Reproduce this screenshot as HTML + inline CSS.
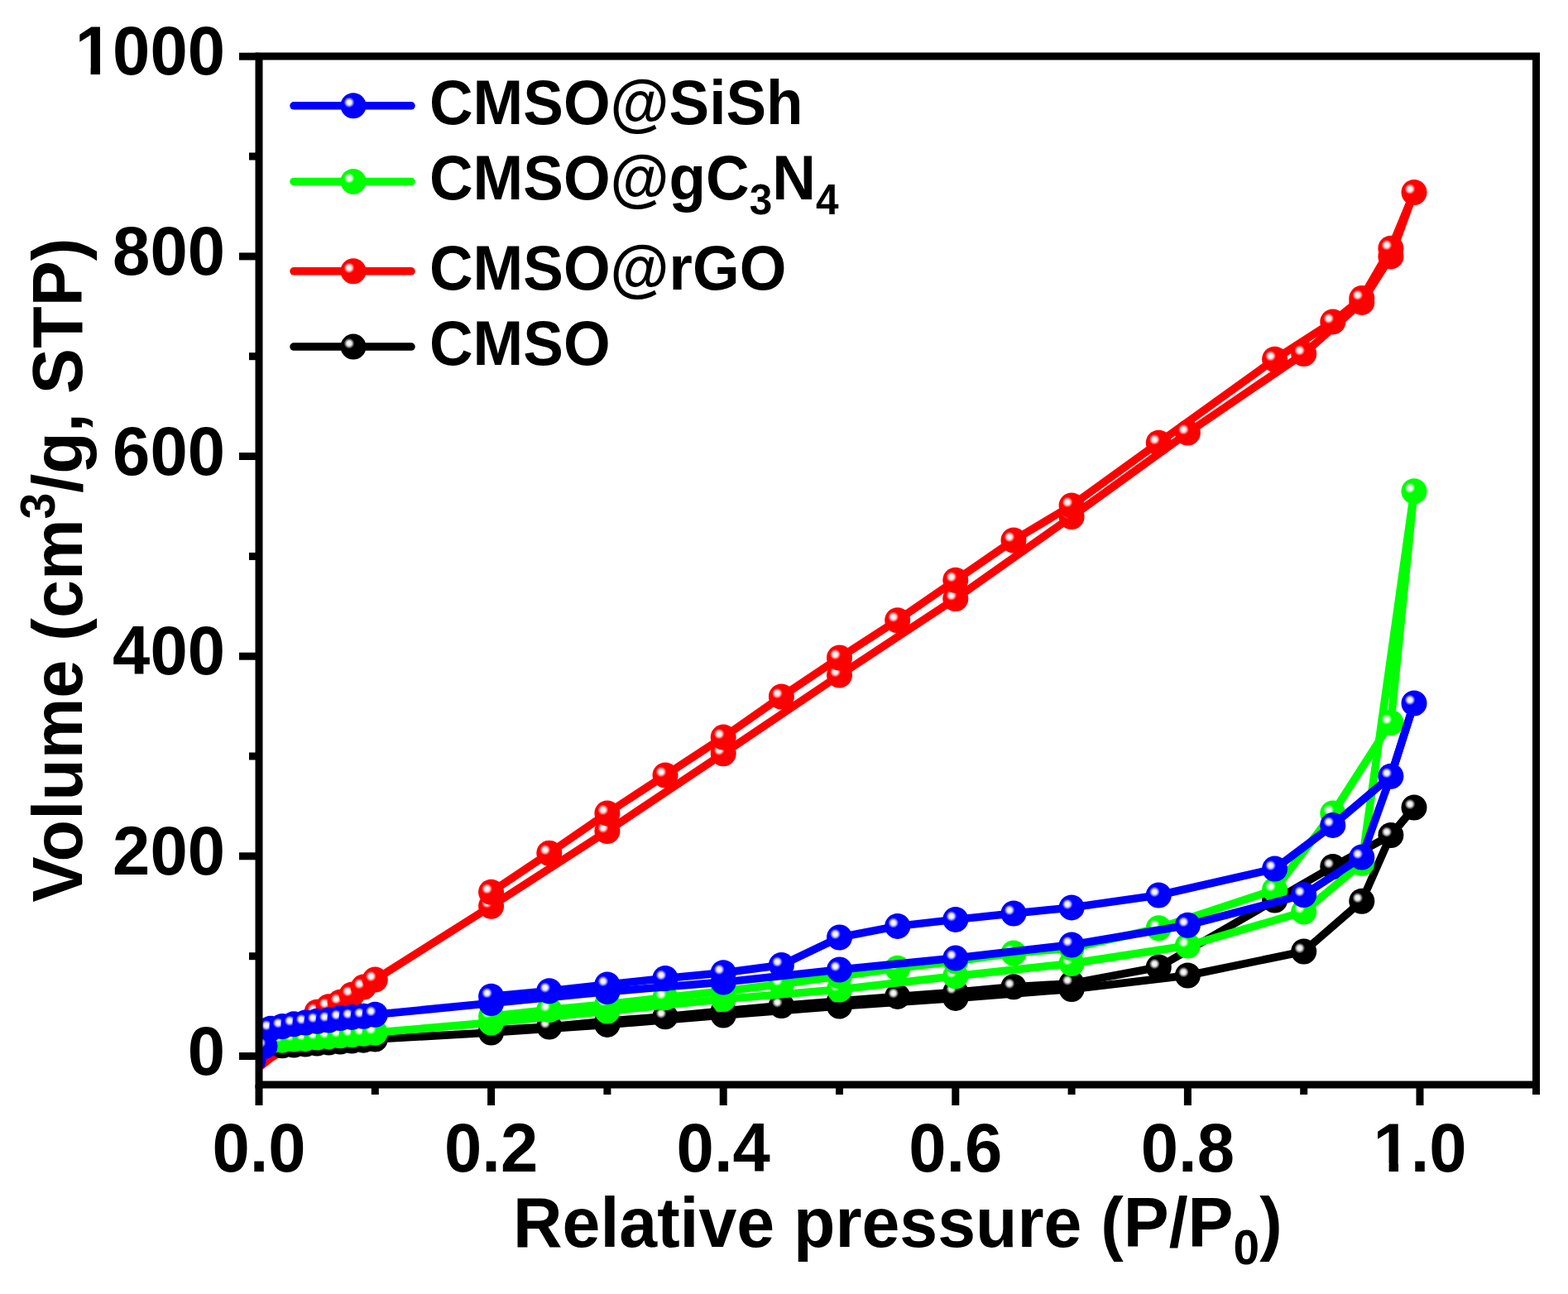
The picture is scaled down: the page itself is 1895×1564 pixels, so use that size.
<!DOCTYPE html><html><head><meta charset="utf-8"><title>Isotherm</title><style>html,body{margin:0;padding:0;background:#fff;}body{width:1895px;height:1564px;overflow:hidden;}svg{display:block;}text{font-family:"Liberation Sans",Arial,sans-serif;font-weight:bold;fill:#000;}</style></head><body>
<svg width="1895" height="1564" viewBox="0 0 1895 1564">
<defs>
<radialGradient id="g_red" cx="0.5" cy="0.5" r="0.5"><stop offset="0" stop-color="#fff"/><stop offset="0.45" stop-color="#fff" stop-opacity="0.9"/><stop offset="1" stop-color="#fff" stop-opacity="0"/></radialGradient>
<radialGradient id="g_black" cx="0.5" cy="0.5" r="0.5"><stop offset="0" stop-color="#fff"/><stop offset="0.45" stop-color="#fff" stop-opacity="0.9"/><stop offset="1" stop-color="#fff" stop-opacity="0"/></radialGradient>
<radialGradient id="g_green" cx="0.5" cy="0.5" r="0.5"><stop offset="0" stop-color="#fff"/><stop offset="0.45" stop-color="#fff" stop-opacity="0.9"/><stop offset="1" stop-color="#fff" stop-opacity="0"/></radialGradient>
<radialGradient id="g_blue" cx="0.5" cy="0.5" r="0.5"><stop offset="0" stop-color="#fff"/><stop offset="0.45" stop-color="#fff" stop-opacity="0.9"/><stop offset="1" stop-color="#fff" stop-opacity="0"/></radialGradient>
<clipPath id="plotclip"><rect x="313" y="68" width="1544" height="1243"/></clipPath>
</defs>
<rect width="1895" height="1564" fill="#fff"/>
<g clip-path="url(#plotclip)">
<polyline points="315.8,1288.0 327.0,1278.9 341.1,1270.5 355.1,1260.8 369.1,1245.1 383.1,1223.3 397.2,1216.7 411.2,1211.3 425.2,1202.2 439.3,1193.1 453.3,1184.1 593.6,1095.3 733.9,1004.6 874.2,910.7 1014.5,816.1 1154.8,723.6 1295.1,624.5 1435.4,523.1 1575.7,427.5 1645.8,365.4 1680.9,309.9 1709.0,232.5" fill="none" stroke="#ff0000" stroke-width="9.5" stroke-linejoin="round" stroke-linecap="round"/>
<polyline points="1709.0,232.5 1680.9,300.2 1645.8,360.6 1610.8,388.9 1540.6,434.3 1400.3,535.2 1295.1,611.0 1225.0,653.0 1154.8,701.3 1084.7,749.7 1014.5,795.0 944.4,842.0 874.2,891.1 804.0,937.0 733.9,982.9 663.8,1031.2 593.6,1078.3" fill="none" stroke="#ff0000" stroke-width="9.5" stroke-linejoin="round" stroke-linecap="round"/>
<circle cx="383.1" cy="1223.3" r="15.5" fill="#ff0000"/><circle cx="378.1" cy="1219.3" r="6.5" fill="url(#g_red)"/>
<circle cx="397.2" cy="1216.7" r="15.5" fill="#ff0000"/><circle cx="392.2" cy="1212.7" r="6.5" fill="url(#g_red)"/>
<circle cx="411.2" cy="1211.3" r="15.5" fill="#ff0000"/><circle cx="406.2" cy="1207.3" r="6.5" fill="url(#g_red)"/>
<circle cx="425.2" cy="1202.2" r="15.5" fill="#ff0000"/><circle cx="420.2" cy="1198.2" r="6.5" fill="url(#g_red)"/>
<circle cx="439.3" cy="1193.1" r="15.5" fill="#ff0000"/><circle cx="434.3" cy="1189.1" r="6.5" fill="url(#g_red)"/>
<circle cx="453.3" cy="1184.1" r="15.5" fill="#ff0000"/><circle cx="448.3" cy="1180.1" r="6.5" fill="url(#g_red)"/>
<circle cx="593.6" cy="1095.3" r="15.5" fill="#ff0000"/><circle cx="588.6" cy="1091.3" r="6.5" fill="url(#g_red)"/>
<circle cx="733.9" cy="1004.6" r="15.5" fill="#ff0000"/><circle cx="728.9" cy="1000.6" r="6.5" fill="url(#g_red)"/>
<circle cx="874.2" cy="910.7" r="15.5" fill="#ff0000"/><circle cx="869.2" cy="906.7" r="6.5" fill="url(#g_red)"/>
<circle cx="1014.5" cy="816.1" r="15.5" fill="#ff0000"/><circle cx="1009.5" cy="812.1" r="6.5" fill="url(#g_red)"/>
<circle cx="1154.8" cy="723.6" r="15.5" fill="#ff0000"/><circle cx="1149.8" cy="719.6" r="6.5" fill="url(#g_red)"/>
<circle cx="1295.1" cy="624.5" r="15.5" fill="#ff0000"/><circle cx="1290.1" cy="620.5" r="6.5" fill="url(#g_red)"/>
<circle cx="1435.4" cy="523.1" r="15.5" fill="#ff0000"/><circle cx="1430.4" cy="519.1" r="6.5" fill="url(#g_red)"/>
<circle cx="1575.7" cy="427.5" r="15.5" fill="#ff0000"/><circle cx="1570.7" cy="423.5" r="6.5" fill="url(#g_red)"/>
<circle cx="1645.8" cy="365.4" r="15.5" fill="#ff0000"/><circle cx="1640.8" cy="361.4" r="6.5" fill="url(#g_red)"/>
<circle cx="1680.9" cy="309.9" r="15.5" fill="#ff0000"/><circle cx="1675.9" cy="305.9" r="6.5" fill="url(#g_red)"/>
<circle cx="1709.0" cy="232.5" r="15.5" fill="#ff0000"/><circle cx="1704.0" cy="228.5" r="6.5" fill="url(#g_red)"/>
<circle cx="1680.9" cy="300.2" r="15.5" fill="#ff0000"/><circle cx="1675.9" cy="296.2" r="6.5" fill="url(#g_red)"/>
<circle cx="1645.8" cy="360.6" r="15.5" fill="#ff0000"/><circle cx="1640.8" cy="356.6" r="6.5" fill="url(#g_red)"/>
<circle cx="1610.8" cy="388.9" r="15.5" fill="#ff0000"/><circle cx="1605.8" cy="384.9" r="6.5" fill="url(#g_red)"/>
<circle cx="1540.6" cy="434.3" r="15.5" fill="#ff0000"/><circle cx="1535.6" cy="430.3" r="6.5" fill="url(#g_red)"/>
<circle cx="1400.3" cy="535.2" r="15.5" fill="#ff0000"/><circle cx="1395.3" cy="531.2" r="6.5" fill="url(#g_red)"/>
<circle cx="1295.1" cy="611.0" r="15.5" fill="#ff0000"/><circle cx="1290.1" cy="607.0" r="6.5" fill="url(#g_red)"/>
<circle cx="1225.0" cy="653.0" r="15.5" fill="#ff0000"/><circle cx="1220.0" cy="649.0" r="6.5" fill="url(#g_red)"/>
<circle cx="1154.8" cy="701.3" r="15.5" fill="#ff0000"/><circle cx="1149.8" cy="697.3" r="6.5" fill="url(#g_red)"/>
<circle cx="1084.7" cy="749.7" r="15.5" fill="#ff0000"/><circle cx="1079.7" cy="745.7" r="6.5" fill="url(#g_red)"/>
<circle cx="1014.5" cy="795.0" r="15.5" fill="#ff0000"/><circle cx="1009.5" cy="791.0" r="6.5" fill="url(#g_red)"/>
<circle cx="944.4" cy="842.0" r="15.5" fill="#ff0000"/><circle cx="939.4" cy="838.0" r="6.5" fill="url(#g_red)"/>
<circle cx="874.2" cy="891.1" r="15.5" fill="#ff0000"/><circle cx="869.2" cy="887.1" r="6.5" fill="url(#g_red)"/>
<circle cx="804.0" cy="937.0" r="15.5" fill="#ff0000"/><circle cx="799.0" cy="933.0" r="6.5" fill="url(#g_red)"/>
<circle cx="733.9" cy="982.9" r="15.5" fill="#ff0000"/><circle cx="728.9" cy="978.9" r="6.5" fill="url(#g_red)"/>
<circle cx="663.8" cy="1031.2" r="15.5" fill="#ff0000"/><circle cx="658.8" cy="1027.2" r="6.5" fill="url(#g_red)"/>
<circle cx="593.6" cy="1078.3" r="15.5" fill="#ff0000"/><circle cx="588.6" cy="1074.3" r="6.5" fill="url(#g_red)"/>
<polyline points="341.1,1263.8 355.1,1263.0 369.1,1262.0 383.1,1261.0 397.2,1260.1 411.2,1259.1 425.2,1258.1 439.3,1257.2 453.3,1256.0 593.6,1248.0 733.9,1238.4 874.2,1227.0 1014.5,1216.1 1154.8,1206.4 1295.1,1195.5 1435.4,1179.0 1575.7,1150.0 1645.8,1089.2 1680.9,1009.5 1709.0,976.0" fill="none" stroke="#000000" stroke-width="9.5" stroke-linejoin="round" stroke-linecap="round"/>
<polyline points="1709.0,976.0 1680.9,1009.5 1610.8,1047.5 1540.6,1088.0 1400.3,1169.0 1295.1,1188.7 1225.0,1192.8 1154.8,1199.2 1084.7,1204.4 1014.5,1210.0 944.4,1215.5 874.2,1222.1 804.0,1228.7 733.9,1234.2 663.8,1241.0 593.6,1245.1" fill="none" stroke="#000000" stroke-width="9.5" stroke-linejoin="round" stroke-linecap="round"/>
<circle cx="341.1" cy="1263.8" r="15.5" fill="#000000"/><circle cx="336.1" cy="1259.8" r="6.5" fill="url(#g_black)"/>
<circle cx="355.1" cy="1263.0" r="15.5" fill="#000000"/><circle cx="350.1" cy="1259.0" r="6.5" fill="url(#g_black)"/>
<circle cx="369.1" cy="1262.0" r="15.5" fill="#000000"/><circle cx="364.1" cy="1258.0" r="6.5" fill="url(#g_black)"/>
<circle cx="383.1" cy="1261.0" r="15.5" fill="#000000"/><circle cx="378.1" cy="1257.0" r="6.5" fill="url(#g_black)"/>
<circle cx="397.2" cy="1260.1" r="15.5" fill="#000000"/><circle cx="392.2" cy="1256.1" r="6.5" fill="url(#g_black)"/>
<circle cx="411.2" cy="1259.1" r="15.5" fill="#000000"/><circle cx="406.2" cy="1255.1" r="6.5" fill="url(#g_black)"/>
<circle cx="425.2" cy="1258.1" r="15.5" fill="#000000"/><circle cx="420.2" cy="1254.1" r="6.5" fill="url(#g_black)"/>
<circle cx="439.3" cy="1257.2" r="15.5" fill="#000000"/><circle cx="434.3" cy="1253.2" r="6.5" fill="url(#g_black)"/>
<circle cx="453.3" cy="1256.0" r="15.5" fill="#000000"/><circle cx="448.3" cy="1252.0" r="6.5" fill="url(#g_black)"/>
<circle cx="593.6" cy="1248.0" r="15.5" fill="#000000"/><circle cx="588.6" cy="1244.0" r="6.5" fill="url(#g_black)"/>
<circle cx="733.9" cy="1238.4" r="15.5" fill="#000000"/><circle cx="728.9" cy="1234.4" r="6.5" fill="url(#g_black)"/>
<circle cx="874.2" cy="1227.0" r="15.5" fill="#000000"/><circle cx="869.2" cy="1223.0" r="6.5" fill="url(#g_black)"/>
<circle cx="1014.5" cy="1216.1" r="15.5" fill="#000000"/><circle cx="1009.5" cy="1212.1" r="6.5" fill="url(#g_black)"/>
<circle cx="1154.8" cy="1206.4" r="15.5" fill="#000000"/><circle cx="1149.8" cy="1202.4" r="6.5" fill="url(#g_black)"/>
<circle cx="1295.1" cy="1195.5" r="15.5" fill="#000000"/><circle cx="1290.1" cy="1191.5" r="6.5" fill="url(#g_black)"/>
<circle cx="1435.4" cy="1179.0" r="15.5" fill="#000000"/><circle cx="1430.4" cy="1175.0" r="6.5" fill="url(#g_black)"/>
<circle cx="1575.7" cy="1150.0" r="15.5" fill="#000000"/><circle cx="1570.7" cy="1146.0" r="6.5" fill="url(#g_black)"/>
<circle cx="1645.8" cy="1089.2" r="15.5" fill="#000000"/><circle cx="1640.8" cy="1085.2" r="6.5" fill="url(#g_black)"/>
<circle cx="1680.9" cy="1009.5" r="15.5" fill="#000000"/><circle cx="1675.9" cy="1005.5" r="6.5" fill="url(#g_black)"/>
<circle cx="1709.0" cy="976.0" r="15.5" fill="#000000"/><circle cx="1704.0" cy="972.0" r="6.5" fill="url(#g_black)"/>
<circle cx="1610.8" cy="1047.5" r="15.5" fill="#000000"/><circle cx="1605.8" cy="1043.5" r="6.5" fill="url(#g_black)"/>
<circle cx="1540.6" cy="1088.0" r="15.5" fill="#000000"/><circle cx="1535.6" cy="1084.0" r="6.5" fill="url(#g_black)"/>
<circle cx="1400.3" cy="1169.0" r="15.5" fill="#000000"/><circle cx="1395.3" cy="1165.0" r="6.5" fill="url(#g_black)"/>
<circle cx="1295.1" cy="1188.7" r="15.5" fill="#000000"/><circle cx="1290.1" cy="1184.7" r="6.5" fill="url(#g_black)"/>
<circle cx="1225.0" cy="1192.8" r="15.5" fill="#000000"/><circle cx="1220.0" cy="1188.8" r="6.5" fill="url(#g_black)"/>
<circle cx="1154.8" cy="1199.2" r="15.5" fill="#000000"/><circle cx="1149.8" cy="1195.2" r="6.5" fill="url(#g_black)"/>
<circle cx="1084.7" cy="1204.4" r="15.5" fill="#000000"/><circle cx="1079.7" cy="1200.4" r="6.5" fill="url(#g_black)"/>
<circle cx="1014.5" cy="1210.0" r="15.5" fill="#000000"/><circle cx="1009.5" cy="1206.0" r="6.5" fill="url(#g_black)"/>
<circle cx="944.4" cy="1215.5" r="15.5" fill="#000000"/><circle cx="939.4" cy="1211.5" r="6.5" fill="url(#g_black)"/>
<circle cx="874.2" cy="1222.1" r="15.5" fill="#000000"/><circle cx="869.2" cy="1218.1" r="6.5" fill="url(#g_black)"/>
<circle cx="804.0" cy="1228.7" r="15.5" fill="#000000"/><circle cx="799.0" cy="1224.7" r="6.5" fill="url(#g_black)"/>
<circle cx="733.9" cy="1234.2" r="15.5" fill="#000000"/><circle cx="728.9" cy="1230.2" r="6.5" fill="url(#g_black)"/>
<circle cx="663.8" cy="1241.0" r="15.5" fill="#000000"/><circle cx="658.8" cy="1237.0" r="6.5" fill="url(#g_black)"/>
<circle cx="593.6" cy="1245.1" r="15.5" fill="#000000"/><circle cx="588.6" cy="1241.1" r="6.5" fill="url(#g_black)"/>
<polyline points="327.0,1258.4 341.1,1257.2 355.1,1256.0 369.1,1255.4 383.1,1254.1 397.2,1252.9 411.2,1251.7 425.2,1250.5 439.3,1249.3 453.3,1248.1 593.6,1236.0 733.9,1222.1 874.2,1207.6 1014.5,1196.0 1154.8,1179.8 1295.1,1164.5 1435.4,1143.0 1575.7,1102.0 1645.8,1043.3 1709.0,593.8" fill="none" stroke="#00ff00" stroke-width="9.5" stroke-linejoin="round" stroke-linecap="round"/>
<polyline points="1709.0,593.8 1680.9,873.5 1610.8,982.9 1540.6,1075.4 1400.3,1121.8 1295.1,1146.0 1225.0,1152.0 1154.8,1161.7 1084.7,1170.2 1014.5,1179.8 944.4,1189.5 874.2,1198.0 804.0,1205.7 733.9,1213.7 663.8,1220.6 593.6,1228.2" fill="none" stroke="#00ff00" stroke-width="9.5" stroke-linejoin="round" stroke-linecap="round"/>
<circle cx="327.0" cy="1258.4" r="15.5" fill="#00ff00"/><circle cx="322.0" cy="1254.4" r="6.5" fill="url(#g_green)"/>
<circle cx="341.1" cy="1257.2" r="15.5" fill="#00ff00"/><circle cx="336.1" cy="1253.2" r="6.5" fill="url(#g_green)"/>
<circle cx="355.1" cy="1256.0" r="15.5" fill="#00ff00"/><circle cx="350.1" cy="1252.0" r="6.5" fill="url(#g_green)"/>
<circle cx="369.1" cy="1255.4" r="15.5" fill="#00ff00"/><circle cx="364.1" cy="1251.4" r="6.5" fill="url(#g_green)"/>
<circle cx="383.1" cy="1254.1" r="15.5" fill="#00ff00"/><circle cx="378.1" cy="1250.1" r="6.5" fill="url(#g_green)"/>
<circle cx="397.2" cy="1252.9" r="15.5" fill="#00ff00"/><circle cx="392.2" cy="1248.9" r="6.5" fill="url(#g_green)"/>
<circle cx="411.2" cy="1251.7" r="15.5" fill="#00ff00"/><circle cx="406.2" cy="1247.7" r="6.5" fill="url(#g_green)"/>
<circle cx="425.2" cy="1250.5" r="15.5" fill="#00ff00"/><circle cx="420.2" cy="1246.5" r="6.5" fill="url(#g_green)"/>
<circle cx="439.3" cy="1249.3" r="15.5" fill="#00ff00"/><circle cx="434.3" cy="1245.3" r="6.5" fill="url(#g_green)"/>
<circle cx="453.3" cy="1248.1" r="15.5" fill="#00ff00"/><circle cx="448.3" cy="1244.1" r="6.5" fill="url(#g_green)"/>
<circle cx="593.6" cy="1236.0" r="15.5" fill="#00ff00"/><circle cx="588.6" cy="1232.0" r="6.5" fill="url(#g_green)"/>
<circle cx="733.9" cy="1222.1" r="15.5" fill="#00ff00"/><circle cx="728.9" cy="1218.1" r="6.5" fill="url(#g_green)"/>
<circle cx="874.2" cy="1207.6" r="15.5" fill="#00ff00"/><circle cx="869.2" cy="1203.6" r="6.5" fill="url(#g_green)"/>
<circle cx="1014.5" cy="1196.0" r="15.5" fill="#00ff00"/><circle cx="1009.5" cy="1192.0" r="6.5" fill="url(#g_green)"/>
<circle cx="1154.8" cy="1179.8" r="15.5" fill="#00ff00"/><circle cx="1149.8" cy="1175.8" r="6.5" fill="url(#g_green)"/>
<circle cx="1295.1" cy="1164.5" r="15.5" fill="#00ff00"/><circle cx="1290.1" cy="1160.5" r="6.5" fill="url(#g_green)"/>
<circle cx="1435.4" cy="1143.0" r="15.5" fill="#00ff00"/><circle cx="1430.4" cy="1139.0" r="6.5" fill="url(#g_green)"/>
<circle cx="1575.7" cy="1102.0" r="15.5" fill="#00ff00"/><circle cx="1570.7" cy="1098.0" r="6.5" fill="url(#g_green)"/>
<circle cx="1645.8" cy="1043.3" r="15.5" fill="#00ff00"/><circle cx="1640.8" cy="1039.3" r="6.5" fill="url(#g_green)"/>
<circle cx="1709.0" cy="593.8" r="15.5" fill="#00ff00"/><circle cx="1704.0" cy="589.8" r="6.5" fill="url(#g_green)"/>
<circle cx="1680.9" cy="873.5" r="15.5" fill="#00ff00"/><circle cx="1675.9" cy="869.5" r="6.5" fill="url(#g_green)"/>
<circle cx="1610.8" cy="982.9" r="15.5" fill="#00ff00"/><circle cx="1605.8" cy="978.9" r="6.5" fill="url(#g_green)"/>
<circle cx="1540.6" cy="1075.4" r="15.5" fill="#00ff00"/><circle cx="1535.6" cy="1071.4" r="6.5" fill="url(#g_green)"/>
<circle cx="1400.3" cy="1121.8" r="15.5" fill="#00ff00"/><circle cx="1395.3" cy="1117.8" r="6.5" fill="url(#g_green)"/>
<circle cx="1295.1" cy="1146.0" r="15.5" fill="#00ff00"/><circle cx="1290.1" cy="1142.0" r="6.5" fill="url(#g_green)"/>
<circle cx="1225.0" cy="1152.0" r="15.5" fill="#00ff00"/><circle cx="1220.0" cy="1148.0" r="6.5" fill="url(#g_green)"/>
<circle cx="1154.8" cy="1161.7" r="15.5" fill="#00ff00"/><circle cx="1149.8" cy="1157.7" r="6.5" fill="url(#g_green)"/>
<circle cx="1084.7" cy="1170.2" r="15.5" fill="#00ff00"/><circle cx="1079.7" cy="1166.2" r="6.5" fill="url(#g_green)"/>
<circle cx="1014.5" cy="1179.8" r="15.5" fill="#00ff00"/><circle cx="1009.5" cy="1175.8" r="6.5" fill="url(#g_green)"/>
<circle cx="944.4" cy="1189.5" r="15.5" fill="#00ff00"/><circle cx="939.4" cy="1185.5" r="6.5" fill="url(#g_green)"/>
<circle cx="874.2" cy="1198.0" r="15.5" fill="#00ff00"/><circle cx="869.2" cy="1194.0" r="6.5" fill="url(#g_green)"/>
<circle cx="804.0" cy="1205.7" r="15.5" fill="#00ff00"/><circle cx="799.0" cy="1201.7" r="6.5" fill="url(#g_green)"/>
<circle cx="733.9" cy="1213.7" r="15.5" fill="#00ff00"/><circle cx="728.9" cy="1209.7" r="6.5" fill="url(#g_green)"/>
<circle cx="663.8" cy="1220.6" r="15.5" fill="#00ff00"/><circle cx="658.8" cy="1216.6" r="6.5" fill="url(#g_green)"/>
<circle cx="593.6" cy="1228.2" r="15.5" fill="#00ff00"/><circle cx="588.6" cy="1224.2" r="6.5" fill="url(#g_green)"/>
<polyline points="315.8,1286.2 320.0,1264.4 327.0,1243.3 341.1,1240.5 355.1,1237.8 369.1,1236.0 383.1,1234.2 397.2,1233.0 411.2,1230.6 425.2,1229.4 439.3,1228.2 453.3,1226.2 593.6,1212.5 733.9,1198.6 874.2,1187.1 1014.5,1172.0 1154.8,1158.1 1295.1,1142.0 1435.4,1118.2 1575.7,1081.5 1645.8,1036.0 1680.9,938.2 1709.0,850.0" fill="none" stroke="#0000ff" stroke-width="9.5" stroke-linejoin="round" stroke-linecap="round"/>
<polyline points="1709.0,850.0 1680.9,938.2 1610.8,997.4 1540.6,1050.1 1400.3,1082.0 1295.1,1096.9 1225.0,1104.0 1154.8,1111.4 1084.7,1119.4 1014.5,1133.0 944.4,1166.5 874.2,1175.8 804.0,1182.5 733.9,1190.0 663.8,1197.7 593.6,1204.2" fill="none" stroke="#0000ff" stroke-width="9.5" stroke-linejoin="round" stroke-linecap="round"/>
<circle cx="320.0" cy="1264.4" r="15.5" fill="#0000ff"/><circle cx="315.0" cy="1260.4" r="6.5" fill="url(#g_blue)"/>
<circle cx="327.0" cy="1243.3" r="15.5" fill="#0000ff"/><circle cx="322.0" cy="1239.3" r="6.5" fill="url(#g_blue)"/>
<circle cx="341.1" cy="1240.5" r="15.5" fill="#0000ff"/><circle cx="336.1" cy="1236.5" r="6.5" fill="url(#g_blue)"/>
<circle cx="355.1" cy="1237.8" r="15.5" fill="#0000ff"/><circle cx="350.1" cy="1233.8" r="6.5" fill="url(#g_blue)"/>
<circle cx="369.1" cy="1236.0" r="15.5" fill="#0000ff"/><circle cx="364.1" cy="1232.0" r="6.5" fill="url(#g_blue)"/>
<circle cx="383.1" cy="1234.2" r="15.5" fill="#0000ff"/><circle cx="378.1" cy="1230.2" r="6.5" fill="url(#g_blue)"/>
<circle cx="397.2" cy="1233.0" r="15.5" fill="#0000ff"/><circle cx="392.2" cy="1229.0" r="6.5" fill="url(#g_blue)"/>
<circle cx="411.2" cy="1230.6" r="15.5" fill="#0000ff"/><circle cx="406.2" cy="1226.6" r="6.5" fill="url(#g_blue)"/>
<circle cx="425.2" cy="1229.4" r="15.5" fill="#0000ff"/><circle cx="420.2" cy="1225.4" r="6.5" fill="url(#g_blue)"/>
<circle cx="439.3" cy="1228.2" r="15.5" fill="#0000ff"/><circle cx="434.3" cy="1224.2" r="6.5" fill="url(#g_blue)"/>
<circle cx="453.3" cy="1226.2" r="15.5" fill="#0000ff"/><circle cx="448.3" cy="1222.2" r="6.5" fill="url(#g_blue)"/>
<circle cx="593.6" cy="1212.5" r="15.5" fill="#0000ff"/><circle cx="588.6" cy="1208.5" r="6.5" fill="url(#g_blue)"/>
<circle cx="733.9" cy="1198.6" r="15.5" fill="#0000ff"/><circle cx="728.9" cy="1194.6" r="6.5" fill="url(#g_blue)"/>
<circle cx="874.2" cy="1187.1" r="15.5" fill="#0000ff"/><circle cx="869.2" cy="1183.1" r="6.5" fill="url(#g_blue)"/>
<circle cx="1014.5" cy="1172.0" r="15.5" fill="#0000ff"/><circle cx="1009.5" cy="1168.0" r="6.5" fill="url(#g_blue)"/>
<circle cx="1154.8" cy="1158.1" r="15.5" fill="#0000ff"/><circle cx="1149.8" cy="1154.1" r="6.5" fill="url(#g_blue)"/>
<circle cx="1295.1" cy="1142.0" r="15.5" fill="#0000ff"/><circle cx="1290.1" cy="1138.0" r="6.5" fill="url(#g_blue)"/>
<circle cx="1435.4" cy="1118.2" r="15.5" fill="#0000ff"/><circle cx="1430.4" cy="1114.2" r="6.5" fill="url(#g_blue)"/>
<circle cx="1575.7" cy="1081.5" r="15.5" fill="#0000ff"/><circle cx="1570.7" cy="1077.5" r="6.5" fill="url(#g_blue)"/>
<circle cx="1645.8" cy="1036.0" r="15.5" fill="#0000ff"/><circle cx="1640.8" cy="1032.0" r="6.5" fill="url(#g_blue)"/>
<circle cx="1680.9" cy="938.2" r="15.5" fill="#0000ff"/><circle cx="1675.9" cy="934.2" r="6.5" fill="url(#g_blue)"/>
<circle cx="1709.0" cy="850.0" r="15.5" fill="#0000ff"/><circle cx="1704.0" cy="846.0" r="6.5" fill="url(#g_blue)"/>
<circle cx="1610.8" cy="997.4" r="15.5" fill="#0000ff"/><circle cx="1605.8" cy="993.4" r="6.5" fill="url(#g_blue)"/>
<circle cx="1540.6" cy="1050.1" r="15.5" fill="#0000ff"/><circle cx="1535.6" cy="1046.1" r="6.5" fill="url(#g_blue)"/>
<circle cx="1400.3" cy="1082.0" r="15.5" fill="#0000ff"/><circle cx="1395.3" cy="1078.0" r="6.5" fill="url(#g_blue)"/>
<circle cx="1295.1" cy="1096.9" r="15.5" fill="#0000ff"/><circle cx="1290.1" cy="1092.9" r="6.5" fill="url(#g_blue)"/>
<circle cx="1225.0" cy="1104.0" r="15.5" fill="#0000ff"/><circle cx="1220.0" cy="1100.0" r="6.5" fill="url(#g_blue)"/>
<circle cx="1154.8" cy="1111.4" r="15.5" fill="#0000ff"/><circle cx="1149.8" cy="1107.4" r="6.5" fill="url(#g_blue)"/>
<circle cx="1084.7" cy="1119.4" r="15.5" fill="#0000ff"/><circle cx="1079.7" cy="1115.4" r="6.5" fill="url(#g_blue)"/>
<circle cx="1014.5" cy="1133.0" r="15.5" fill="#0000ff"/><circle cx="1009.5" cy="1129.0" r="6.5" fill="url(#g_blue)"/>
<circle cx="944.4" cy="1166.5" r="15.5" fill="#0000ff"/><circle cx="939.4" cy="1162.5" r="6.5" fill="url(#g_blue)"/>
<circle cx="874.2" cy="1175.8" r="15.5" fill="#0000ff"/><circle cx="869.2" cy="1171.8" r="6.5" fill="url(#g_blue)"/>
<circle cx="804.0" cy="1182.5" r="15.5" fill="#0000ff"/><circle cx="799.0" cy="1178.5" r="6.5" fill="url(#g_blue)"/>
<circle cx="733.9" cy="1190.0" r="15.5" fill="#0000ff"/><circle cx="728.9" cy="1186.0" r="6.5" fill="url(#g_blue)"/>
<circle cx="663.8" cy="1197.7" r="15.5" fill="#0000ff"/><circle cx="658.8" cy="1193.7" r="6.5" fill="url(#g_blue)"/>
<circle cx="593.6" cy="1204.2" r="15.5" fill="#0000ff"/><circle cx="588.6" cy="1200.2" r="6.5" fill="url(#g_blue)"/>
</g>
<rect x="313" y="68" width="1543.5" height="1243" fill="none" stroke="#000" stroke-width="9"/>
<line x1="289" y1="1276.5" x2="313" y2="1276.5" stroke="#000" stroke-width="9"/>
<line x1="301" y1="1155.7" x2="313" y2="1155.7" stroke="#000" stroke-width="9"/>
<line x1="289" y1="1034.8" x2="313" y2="1034.8" stroke="#000" stroke-width="9"/>
<line x1="301" y1="914.0" x2="313" y2="914.0" stroke="#000" stroke-width="9"/>
<line x1="289" y1="793.2" x2="313" y2="793.2" stroke="#000" stroke-width="9"/>
<line x1="301" y1="672.4" x2="313" y2="672.4" stroke="#000" stroke-width="9"/>
<line x1="289" y1="551.5" x2="313" y2="551.5" stroke="#000" stroke-width="9"/>
<line x1="301" y1="430.7" x2="313" y2="430.7" stroke="#000" stroke-width="9"/>
<line x1="289" y1="309.9" x2="313" y2="309.9" stroke="#000" stroke-width="9"/>
<line x1="301" y1="189.0" x2="313" y2="189.0" stroke="#000" stroke-width="9"/>
<line x1="289" y1="68.2" x2="313" y2="68.2" stroke="#000" stroke-width="9"/>
<line x1="313.0" y1="1311" x2="313.0" y2="1336" stroke="#000" stroke-width="9"/>
<line x1="453.3" y1="1311" x2="453.3" y2="1323" stroke="#000" stroke-width="9"/>
<line x1="593.6" y1="1311" x2="593.6" y2="1336" stroke="#000" stroke-width="9"/>
<line x1="733.9" y1="1311" x2="733.9" y2="1323" stroke="#000" stroke-width="9"/>
<line x1="874.2" y1="1311" x2="874.2" y2="1336" stroke="#000" stroke-width="9"/>
<line x1="1014.5" y1="1311" x2="1014.5" y2="1323" stroke="#000" stroke-width="9"/>
<line x1="1154.8" y1="1311" x2="1154.8" y2="1336" stroke="#000" stroke-width="9"/>
<line x1="1295.1" y1="1311" x2="1295.1" y2="1323" stroke="#000" stroke-width="9"/>
<line x1="1435.4" y1="1311" x2="1435.4" y2="1336" stroke="#000" stroke-width="9"/>
<line x1="1575.7" y1="1311" x2="1575.7" y2="1323" stroke="#000" stroke-width="9"/>
<line x1="1716.0" y1="1311" x2="1716.0" y2="1336" stroke="#000" stroke-width="9"/>
<line x1="1856.5" y1="1311" x2="1856.5" y2="1323" stroke="#000" stroke-width="9"/>
<text transform="translate(272.0,1298.5) scale(0.97,1)" font-size="84" text-anchor="end">0</text>
<text transform="translate(272.0,1056.8) scale(0.97,1)" font-size="84" text-anchor="end">200</text>
<text transform="translate(272.0,815.2) scale(0.97,1)" font-size="84" text-anchor="end">400</text>
<text transform="translate(272.0,573.5) scale(0.97,1)" font-size="84" text-anchor="end">600</text>
<text transform="translate(272.0,331.9) scale(0.97,1)" font-size="84" text-anchor="end">800</text>
<text transform="translate(272.0,90.2) scale(0.97,1)" font-size="84" text-anchor="end">1000</text>
<text transform="translate(313.0,1416.0) scale(0.97,1)" font-size="84" text-anchor="middle">0.0</text>
<text transform="translate(593.6,1416.0) scale(0.97,1)" font-size="84" text-anchor="middle">0.2</text>
<text transform="translate(874.2,1416.0) scale(0.97,1)" font-size="84" text-anchor="middle">0.4</text>
<text transform="translate(1154.8,1416.0) scale(0.97,1)" font-size="84" text-anchor="middle">0.6</text>
<text transform="translate(1435.4,1416.0) scale(0.97,1)" font-size="84" text-anchor="middle">0.8</text>
<text transform="translate(1716.0,1416.0) scale(0.97,1)" font-size="84" text-anchor="middle">1.0</text>
<rect x="94" y="80.3" width="15.6" height="11" fill="#fff"/>
<rect x="121.0" y="80.3" width="14.5" height="11" fill="#fff"/>
<rect x="1662" y="1406.3" width="16.6" height="11" fill="#fff"/>
<rect x="1690.0" y="1406.3" width="14" height="11" fill="#fff"/>
<text transform="translate(620.0,1506.5) scale(0.97,1)" font-size="85">Relative pressure (P/P<tspan font-size="58.6" dy="21">0</tspan><tspan dy="-21">)</tspan></text>
<text transform="translate(98.5,1090.5) rotate(-90) scale(0.974,1)" font-size="85">Volume (cm<tspan font-size="58.6" dy="-33">3</tspan><tspan dy="33">/g, STP)</tspan></text>
<line x1="355" y1="127.8" x2="497" y2="127.8" stroke="#0000ff" stroke-width="9.5" stroke-linecap="round"/>
<circle cx="427.0" cy="127.8" r="15.5" fill="#0000ff"/><circle cx="422.0" cy="123.8" r="6.5" fill="url(#g_blue)"/>
<text transform="translate(519.0,149.6) scale(0.955,1)" font-size="76.3">CMSO@SiSh</text>
<line x1="355" y1="219.4" x2="497" y2="219.4" stroke="#00ff00" stroke-width="9.5" stroke-linecap="round"/>
<circle cx="427.0" cy="219.4" r="15.5" fill="#00ff00"/><circle cx="422.0" cy="215.4" r="6.5" fill="url(#g_green)"/>
<text transform="translate(519.0,241.2) scale(0.955,1)" font-size="76.3">CMSO@gC<tspan font-size="51.9" dy="18">3</tspan><tspan dy="-18">N</tspan><tspan font-size="51.9" dy="18">4</tspan></text>
<line x1="355" y1="327.8" x2="497" y2="327.8" stroke="#ff0000" stroke-width="9.5" stroke-linecap="round"/>
<circle cx="427.0" cy="327.8" r="15.5" fill="#ff0000"/><circle cx="422.0" cy="323.8" r="6.5" fill="url(#g_red)"/>
<text transform="translate(519.0,349.6) scale(0.955,1)" font-size="76.3">CMSO@rGO</text>
<line x1="355" y1="419.1" x2="497" y2="419.1" stroke="#000000" stroke-width="9.5" stroke-linecap="round"/>
<circle cx="427.0" cy="419.1" r="15.5" fill="#000000"/><circle cx="422.0" cy="415.1" r="6.5" fill="url(#g_black)"/>
<text transform="translate(519.0,440.9) scale(0.955,1)" font-size="76.3">CMSO</text>
</svg></body></html>
